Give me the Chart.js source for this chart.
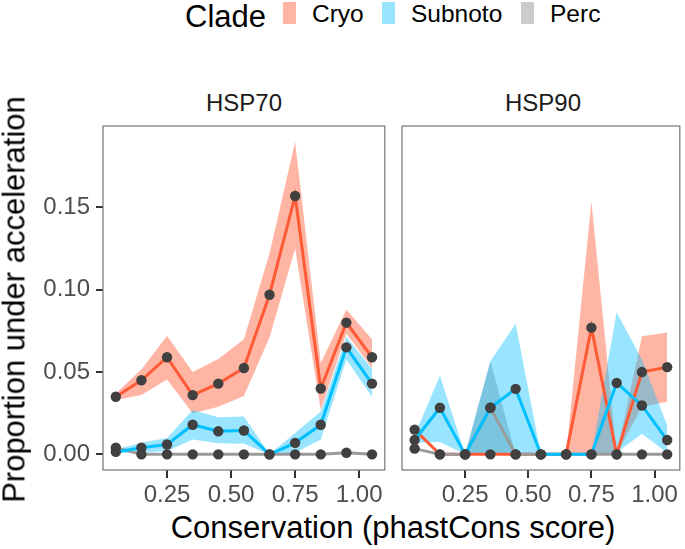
<!DOCTYPE html>
<html lang="en">
<head>
<meta charset="UTF-8">
<title>Proportion under acceleration</title>
<script src="https://cdn.jsdelivr.net/npm/chart.js@4.4.0/dist/chart.umd.min.js"></script>
<style>
  body { margin: 0; background: #fff; }
  #wrap { position: relative; width: 685px; height: 549px; font-family: "Liberation Sans", Arial, sans-serif; overflow: hidden; }
  #wrap canvas { position: absolute; }
  .txt { position: absolute; white-space: nowrap; color: #000; }
  .key { position: absolute; width: 13px; height: 22px; }
</style>
</head>
<body>
<div id="wrap">
  <canvas id="hsp70" width="390" height="390" style="left:0;top:120px"></canvas>
  <canvas id="hsp90" width="295" height="390" style="left:390px;top:120px"></canvas>

  <div class="txt" style="left:185px;top:1px;font-size:31px;line-height:31px">Clade</div>
  <div class="key" style="left:283px;top:2px;background:rgba(255,90,54,0.45)"></div>
  <div class="txt" style="left:312px;top:2px;font-size:24.5px;line-height:24.5px">Cryo</div>
  <div class="key" style="left:382px;top:2px;background:rgba(0,191,255,0.4)"></div>
  <div class="txt" style="left:411px;top:2px;font-size:24.5px;line-height:24.5px">Subnoto</div>
  <div class="key" style="left:521px;top:2px;background:rgba(128,128,128,0.4)"></div>
  <div class="txt" style="left:550px;top:2px;font-size:24.5px;line-height:24.5px">Perc</div>

  <div class="txt" style="left:103px;width:282px;text-align:center;top:91px;font-size:24px;line-height:24px;color:#1a1a1a">HSP70</div>
  <div class="txt" style="left:402px;width:282px;text-align:center;top:91px;font-size:24px;line-height:24px;color:#1a1a1a">HSP90</div>

  <div class="txt" style="left:93px;width:600px;text-align:center;top:512px;font-size:31px;line-height:31px">Conservation (phastCons score)</div>
  <div class="txt" style="left:-211px;width:450px;text-align:center;top:284px;font-size:31px;line-height:31px;transform:rotate(-90deg)">Proportion under acceleration</div>
</div>

<script>
// phastCons bins (x positions)
const xs = [0.05, 0.15, 0.25, 0.35, 0.45, 0.55, 0.65, 0.75, 0.85, 0.95, 1.05];
const xTicks = [0.25, 0.50, 0.75, 1.00];
const yTicks = [0, 0.05, 0.10, 0.15];

// HSP70
const cryo70   = [0.035, 0.045, 0.059, 0.036, 0.043, 0.0525, 0.097, 0.157, 0.040, 0.080, 0.059];
const cryo70Lo = [0.033, 0.036, 0.0455, 0.025, 0.029, 0.0355, 0.071, 0.125, 0.027, 0.0735, 0.0525];
const cryo70Hi = [0.037, 0.0515, 0.072, 0.050, 0.058, 0.070, 0.122, 0.190, 0.0555, 0.088, 0.070];
const sub70    = [0.0015, 0.004, 0.006, 0.018, 0.014, 0.0145, 0, 0.007, 0.018, 0.065, 0.043];
const sub70Lo  = [0.001, 0.001, 0.002, 0.009, 0.0067, 0.0065, 0, 0.001, 0.009, 0.0576, 0.035];
const sub70Hi  = [0.003, 0.007, 0.010, 0.027, 0.0226, 0.023, 0, 0.013, 0.026, 0.0715, 0.052];
const perc70   = [0.004, 0, 0, 0, 0, 0, 0, 0, 0, 0.001, 0];
const perc70Lo = [0.003, 0, 0, 0, 0, 0, 0, 0, 0, 0.0005, 0];
const perc70Hi = [0.005, 0, 0, 0, 0, 0, 0, 0, 0, 0.0015, 0];

// HSP90
const cryo90   = [0.015, 0, 0, 0, 0, 0, 0, 0.077, 0, 0.050, 0.053];
const cryo90Lo = [0.013, 0, 0, 0, 0, 0, 0, 0, 0, 0.029, 0.032];
const cryo90Hi = [0.017, 0, 0, 0, 0, 0, 0, 0.1535, 0, 0.0717, 0.074];
const sub90    = [0.0087, 0.0283, 0, 0.0283, 0.0398, 0, 0, 0, 0.0434, 0.0297, 0.0087];
const sub90Lo  = [0.007, 0.0075, 0, 0, 0, 0, 0, 0, 0.001, 0.0125, 0.001];
const sub90Hi  = [0.0115, 0.0479, 0, 0.0566, 0.0794, 0, 0, 0, 0.0863, 0.0576, 0.0176];
const perc90   = [0.0035, 0, 0, 0.0283, 0, 0, 0, 0, 0, 0, 0];
const perc90Lo = [0.003, 0, 0, 0, 0, 0, 0, 0, 0, 0, 0];
const perc90Hi = [0.004, 0, 0, 0.0566, 0, 0, 0, 0, 0, 0, 0];

const colors = {
  Cryo:    { line: '#FF5A36', fill: 'rgba(255,90,54,0.45)' },
  Perc:    { line: '#9a9a9a', fill: 'rgba(128,128,128,0.4)' },
  Subnoto: { line: '#00BFFF', fill: 'rgba(0,191,255,0.4)' }
};

const pts = arr => arr.map((y, i) => ({ x: xs[i], y: y }));

// draw order bottom -> top: Cryo, Perc, Subnoto
function buildDatasets(clades) {
  const ds = [];
  clades.forEach((c, i) => {
    const loIdx = ds.length;
    ds.push({ data: pts(c.lo), borderColor: 'transparent', borderWidth: 0, pointRadius: 0, fill: false, order: 10 });
    ds.push({ data: pts(c.hi), borderColor: 'transparent', borderWidth: 0, pointRadius: 0,
              fill: loIdx, backgroundColor: colors[c.name].fill, order: 6 - i });
  });
  clades.forEach((c, i) => {
    ds.push({ data: pts(c.v), borderColor: colors[c.name].line, borderWidth: 3, pointRadius: 0,
              fill: false, tension: 0, order: 3 - i });
  });
  clades.forEach(c => {
    ds.push({ data: pts(c.v), showLine: false, pointRadius: 5.2, pointBackgroundColor: '#404040',
              pointBorderWidth: 0, order: 0 });
  });
  return ds;
}

const panelBox = {
  id: 'panelBox',
  afterDraw(chart) {
    const a = chart.chartArea, ctx = chart.ctx;
    ctx.save();
    ctx.strokeStyle = '#7f7f7f';
    ctx.lineWidth = 1.3;
    ctx.strokeRect(a.left, a.top, a.right - a.left, a.bottom - a.top);
    ctx.restore();
  }
};

function makePanel(id, clades, showY, padding) {
  new Chart(document.getElementById(id), {
    type: 'line',
    data: { datasets: buildDatasets(clades) },
    options: {
      responsive: false,
      animation: false,
      layout: { padding: padding },
      plugins: { legend: { display: false }, tooltip: { enabled: false } },
      scales: {
        x: {
          type: 'linear', min: 0, max: 1.1,
          afterBuildTicks: s => { s.ticks = xTicks.map(v => ({ value: v })); },
          afterFit: s => { s.height = 40; s.paddingLeft = 0; s.paddingRight = 0; },
          border: { display: false },
          grid: { drawOnChartArea: false, drawTicks: true, tickLength: 8, color: '#333', lineWidth: 2 },
          ticks: { color: '#4d4d4d', padding: 3, maxRotation: 0, font: { family: 'Liberation Sans', size: 24 },
                   callback: v => v.toFixed(2) }
        },
        y: {
          min: -0.0095, max: 0.1995,
          afterBuildTicks: s => { s.ticks = yTicks.map(v => ({ value: v })); },
          afterFit: s => { s.width = showY ? 103 : 12; s.paddingTop = 0; s.paddingBottom = 0; },
          border: { display: false },
          grid: { display: showY, drawOnChartArea: false, drawTicks: true, tickLength: 7, color: '#333', lineWidth: 2 },
          ticks: { display: showY, color: '#4d4d4d', padding: 6, font: { family: 'Liberation Sans', size: 24 },
                   callback: v => v.toFixed(2) }
        }
      }
    },
    plugins: [panelBox]
  });
}

makePanel('hsp70', [
  { name: 'Cryo', v: cryo70, lo: cryo70Lo, hi: cryo70Hi },
  { name: 'Perc', v: perc70, lo: perc70Lo, hi: perc70Hi },
  { name: 'Subnoto', v: sub70, lo: sub70Lo, hi: sub70Hi }
], true, { top: 6, right: 5, left: 0, bottom: 0 });

makePanel('hsp90', [
  { name: 'Cryo', v: cryo90, lo: cryo90Lo, hi: cryo90Hi },
  { name: 'Perc', v: perc90, lo: perc90Lo, hi: perc90Hi },
  { name: 'Subnoto', v: sub90, lo: sub90Lo, hi: sub90Hi }
], false, { top: 6, right: 1, left: 0, bottom: 0 });
</script>
</body>
</html>
